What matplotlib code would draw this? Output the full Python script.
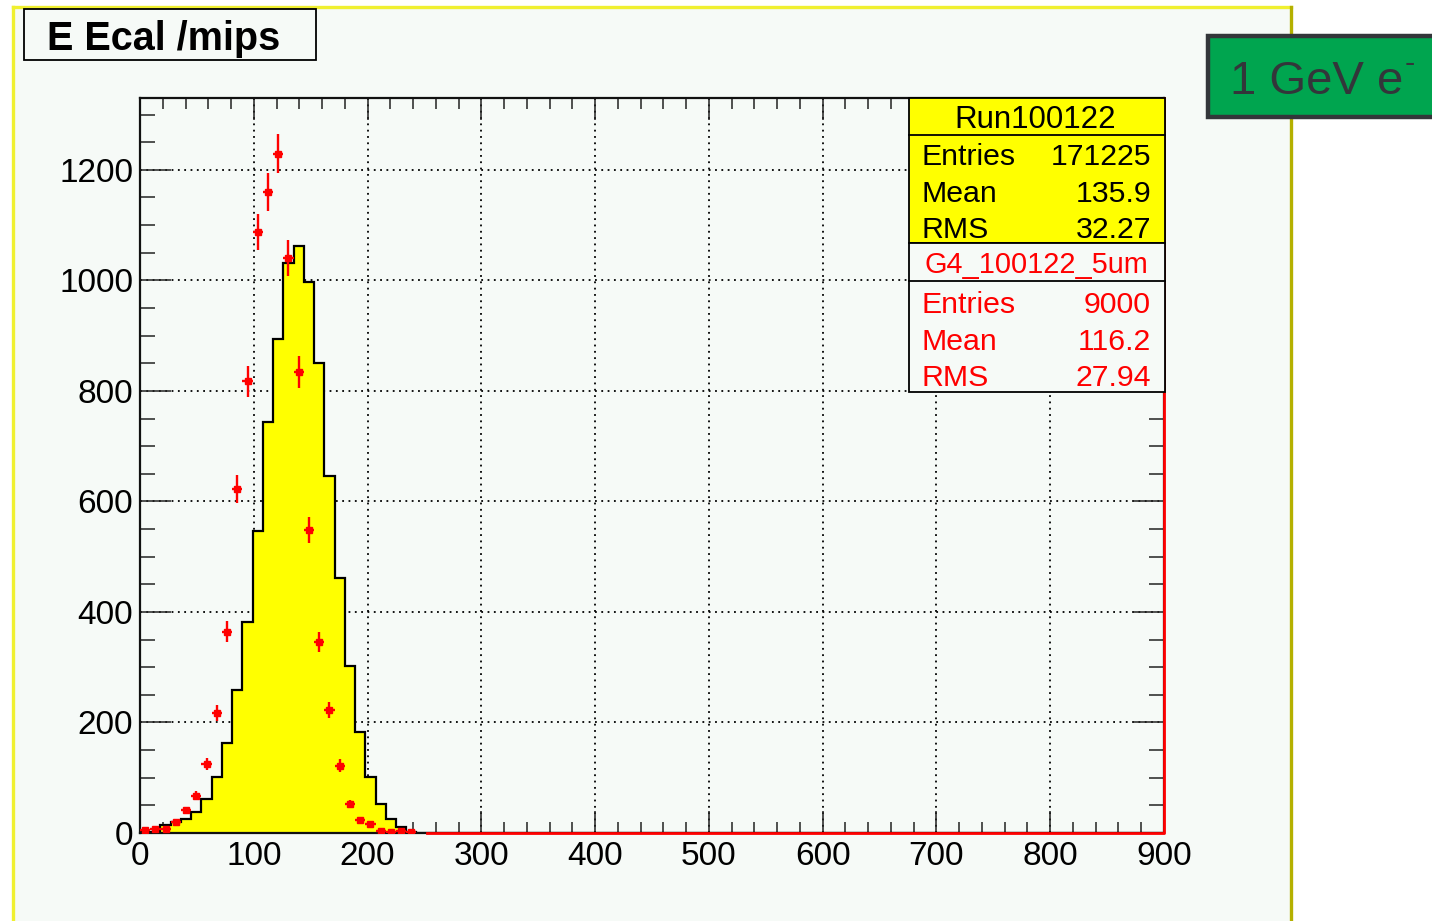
import numpy as np
import matplotlib
matplotlib.use("Agg")
import matplotlib.pyplot as plt
from matplotlib.patches import Rectangle
from matplotlib.lines import Line2D
from matplotlib.ticker import MultipleLocator

plt.rcParams["font.family"] = ["Liberation Sans", "DejaVu Sans"]

# ---- histogram data (E Ecal in mips, 100 bins of 9 mips from 0 to 900) ----
n_bins = 100
x_min, x_max = 0, 900

# Run100122 (normalised), first 27 bins; the rest are empty
data_counts = [1, 2, 14, 20, 26, 38, 61, 102, 163, 258, 381, 546, 744, 893,
               1032, 1062, 997, 850, 646, 462, 302, 183, 102, 52, 26, 11, 2]

# G4_100122_5um simulation, first 27 bins; the rest are empty
sim_counts = [5, 8, 7, 20, 41, 67, 125, 217, 364, 623, 817, 1088, 1160, 1229,
              1041, 835, 549, 346, 223, 122, 52, 23, 16, 4, 1, 4, 1]

x_ticks = [0, 100, 200, 300, 400, 500, 600, 700, 800, 900]
y_ticks = [0, 200, 400, 600, 800, 1000, 1200]
y_max = 1330

data_name = "Run100122"
data_stats = [("Entries", "171225"), ("Mean", "135.9"), ("RMS", "32.27")]
sim_name = "G4_100122_5um"
sim_stats = [("Entries", "9000"), ("Mean", "116.2"), ("RMS", "27.94")]

title = "E Ecal /mips"
beam_label = "1 GeV e"

# ---- figure in pixel coordinates ----
W, H = 1432, 921
fig = plt.figure(figsize=(W / 100, H / 100), dpi=100, facecolor="white")


def fx(x):
    return x / W


def fy(y):
    return 1 - y / H


def frect(x0, y0, x1, y1, **kw):
    r = Rectangle((fx(x0), fy(y1)), fx(x1) - fx(x0), fy(y0) - fy(y1),
                  transform=fig.transFigure, **kw)
    fig.add_artist(r)
    return r


def fline(xs, ys, **kw):
    ln = Line2D([fx(x) for x in xs], [fy(y) for y in ys],
                transform=fig.transFigure, **kw)
    fig.add_artist(ln)
    return ln


pad_bg = "#f6faf7"

# pad with bevelled border
frect(13, 6, 1291, 925, facecolor=pad_bg, edgecolor="none", zorder=-10)
fline([13, 13], [925, 7], color="#f0f030", lw=2.4, zorder=-9)
fline([13, 1291], [7, 7], color="#f0f030", lw=2.4, zorder=-9)
fline([1291, 1291], [7, 925], color="#b4b000", lw=2.4, zorder=-9)

# ---- main frame ----
ax = fig.add_axes([fx(140), fy(833), fx(1164) - fx(140), fy(98) - fy(833)])
ax.set_facecolor(pad_bg)
ax.set_xlim(x_min, x_max)
ax.set_ylim(0, y_max)

edges = np.linspace(x_min, x_max, n_bins + 1)
centers = 0.5 * (edges[:-1] + edges[1:])
data_full = np.zeros(n_bins)
data_full[:len(data_counts)] = data_counts

ax.stairs(data_full, edges, fill=True, color="#ffff00", zorder=1)
ax.stairs(data_full, edges, baseline=0, color="black", lw=1.6, zorder=2)

sim = np.array(sim_counts, dtype=float)
n_sim = len(sim)
half_w = (edges[1] - edges[0]) / 2
ax.errorbar(centers[:n_sim], sim, yerr=np.sqrt(sim), xerr=half_w,
            fmt="s", color="red", ms=4.6, elinewidth=1.7, capsize=0,
            zorder=4)
# empty simulation bins drawn along the baseline up to the right edge
ax.plot([edges[28], x_max, x_max], [0, 0, y_max], color="red", lw=2.0,
        clip_on=False, zorder=5)

ax.set_xticks(x_ticks)
ax.set_yticks(y_ticks)
ax.xaxis.set_minor_locator(MultipleLocator(20))
ax.yaxis.set_minor_locator(MultipleLocator(50))
ax.tick_params(which="both", direction="in", top=True, right=True,
               labelsize=24, width=1.1, color="#222222")
ax.tick_params(axis="x", which="major", length=16, pad=6)
ax.tick_params(axis="x", which="minor", length=8)
ax.tick_params(axis="y", which="major", length=22, pad=5)
ax.tick_params(axis="y", which="minor", length=11)
ax.grid(True, which="major", color="black", linestyle=(0, (1, 2.5)),
        linewidth=1.3)
ax.set_axisbelow(True)
for s in ax.spines.values():
    s.set_linewidth(1.6)
    s.set_color("#111111")

# ---- title box ----
frect(24, 9, 316, 60, facecolor=pad_bg, edgecolor="black", lw=1.3, zorder=2)
fig.text(fx(47), fy(39), title, fontsize=28.5, fontweight="bold",
         ha="left", va="center", zorder=3)

# ---- statistics boxes ----
bx0, bx1 = 909, 1165
frect(bx0, 98, bx1, 243, facecolor="#ffff00", edgecolor="black", lw=1.3,
      zorder=2)
fline([bx0, bx1], [135, 135], color="black", lw=1.3, zorder=2)
frect(bx0, 243, bx1, 392, facecolor=pad_bg, edgecolor="black", lw=1.3,
      zorder=2)
fline([bx0, bx1], [281, 281], color="black", lw=1.3, zorder=2)

stat_fs = 21.8
fig.text(fx(1035), fy(120), data_name, fontsize=22.5, ha="center",
         va="center", zorder=3)
for i, (lab, val) in enumerate(data_stats):
    y = 157 + i * 36.5
    fig.text(fx(921), fy(y), lab, fontsize=stat_fs, ha="left", va="center",
             zorder=3)
    fig.text(fx(1151), fy(y), val, fontsize=stat_fs, ha="right",
             va="center", zorder=3)

fig.text(fx(1036), fy(265), sim_name, fontsize=20.8, ha="center",
         va="center", color="red", zorder=3)
for i, (lab, val) in enumerate(sim_stats):
    y = 305 + i * 36.5
    fig.text(fx(921), fy(y), lab, fontsize=stat_fs, ha="left", va="center",
             color="red", zorder=3)
    fig.text(fx(1151), fy(y), val, fontsize=stat_fs, ha="right",
             va="center", color="red", zorder=3)

# ---- beam label ----
frect(1208, 36, 1440, 117, facecolor="#00a54f", edgecolor="#33363a", lw=3.2,
      zorder=2)
fig.text(fx(1230), fy(82), beam_label, fontsize=34, color="#33363a",
         ha="left", va="center", zorder=3)
fig.text(fx(1405), fy(64), "-", fontsize=22, color="#33363a",
         ha="left", va="center", zorder=3)

fig.savefig("out.png", dpi=100, facecolor="white")
